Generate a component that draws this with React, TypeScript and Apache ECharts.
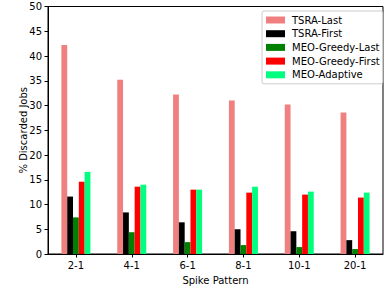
import React, { useEffect, useRef } from "react";
import * as echarts from "echarts";

const categories = ["2-1", "4-1", "6-1", "8-1", "10-1", "20-1"];
const seriesNames = ["TSRA-Last", "TSRA-First", "MEO-Greedy-Last", "MEO-Greedy-First", "MEO-Adaptive"];
const tsraLast = [42.2, 35.2, 32.2, 31.0, 30.2, 28.6];
const tsraFirst = [11.6, 8.4, 6.4, 5.0, 4.6, 2.8];
const meoGreedyLast = [7.4, 4.4, 2.4, 1.8, 1.4, 1.0];
const meoGreedyFirst = [14.6, 13.6, 13.0, 12.4, 12.0, 11.4];
const meoAdaptive = [16.6, 14.0, 13.0, 13.6, 12.6, 12.4];
const colors = ["#F08080", "#000000", "#008000", "#FF0000", "#00FF7F"];

export default function App() {
  const ref = useRef<HTMLDivElement>(null);
  useEffect(() => {
    document.body.style.margin = "0";
    const chart = echarts.init(ref.current!, null, { renderer: "svg" });
    const font = "DejaVu Sans";
    const data = [tsraLast, tsraFirst, meoGreedyLast, meoGreedyFirst, meoAdaptive];
    chart.setOption({
      animation: false,
      textStyle: { fontFamily: font },
      grid: {
        left: 48,
        right: 3,
        top: 6.5,
        bottom: 34,
        show: true,
        borderColor: "#000",
        borderWidth: 1,
        backgroundColor: "transparent",
      },
      legend: {
        orient: "vertical",
        left: 262,
        top: 11,
        padding: [3, 3, 3, 4],
        itemWidth: 19,
        itemHeight: 7,
        itemGap: 1.7,
        icon: "rect",
        backgroundColor: "rgba(255,255,255,0.8)",
        borderColor: "#cccccc",
        borderWidth: 1,
        borderRadius: 2,
        textStyle: { fontFamily: font, fontSize: 10, color: "#000", lineHeight: 12, padding: [0, 0, 0, 2] },
        data: seriesNames,
      },
      xAxis: {
        type: "category",
        data: categories,
        name: "Spike Pattern",
        nameLocation: "middle",
        nameGap: 21,
        nameMoveOverlap: false,
        nameTextStyle: { fontFamily: font, fontSize: 10, color: "#000" },
        axisLine: { show: true, lineStyle: { color: "#000", width: 1 } },
        axisTick: { show: true, alignWithLabel: true, length: 3.5, lineStyle: { color: "#000" } },
        axisLabel: { fontFamily: font, fontSize: 10, color: "#000", margin: 6 },
        splitLine: { show: false },
      },
      yAxis: {
        type: "value",
        min: 0,
        max: 50,
        interval: 5,
        name: "% Discarded Jobs",
        nameLocation: "middle",
        nameGap: 20,
        nameMoveOverlap: false,
        nameTextStyle: { fontFamily: font, fontSize: 10, color: "#000" },
        axisLine: { show: true, lineStyle: { color: "#000", width: 1 } },
        axisTick: { show: true, length: 3.5, lineStyle: { color: "#000" } },
        axisLabel: { fontFamily: font, fontSize: 10, color: "#000", margin: 6 },
        splitLine: { show: false },
      },
      series: seriesNames.map((name, i) => ({
        name,
        type: "bar",
        data: data[i],
        barWidth: 5.8,
        barGap: "0%",
        itemStyle: { color: colors[i] },
      })),
    });
    return () => chart.dispose();
  }, []);
  return <div ref={ref} style={{ width: 386, height: 290 }} />;
}
